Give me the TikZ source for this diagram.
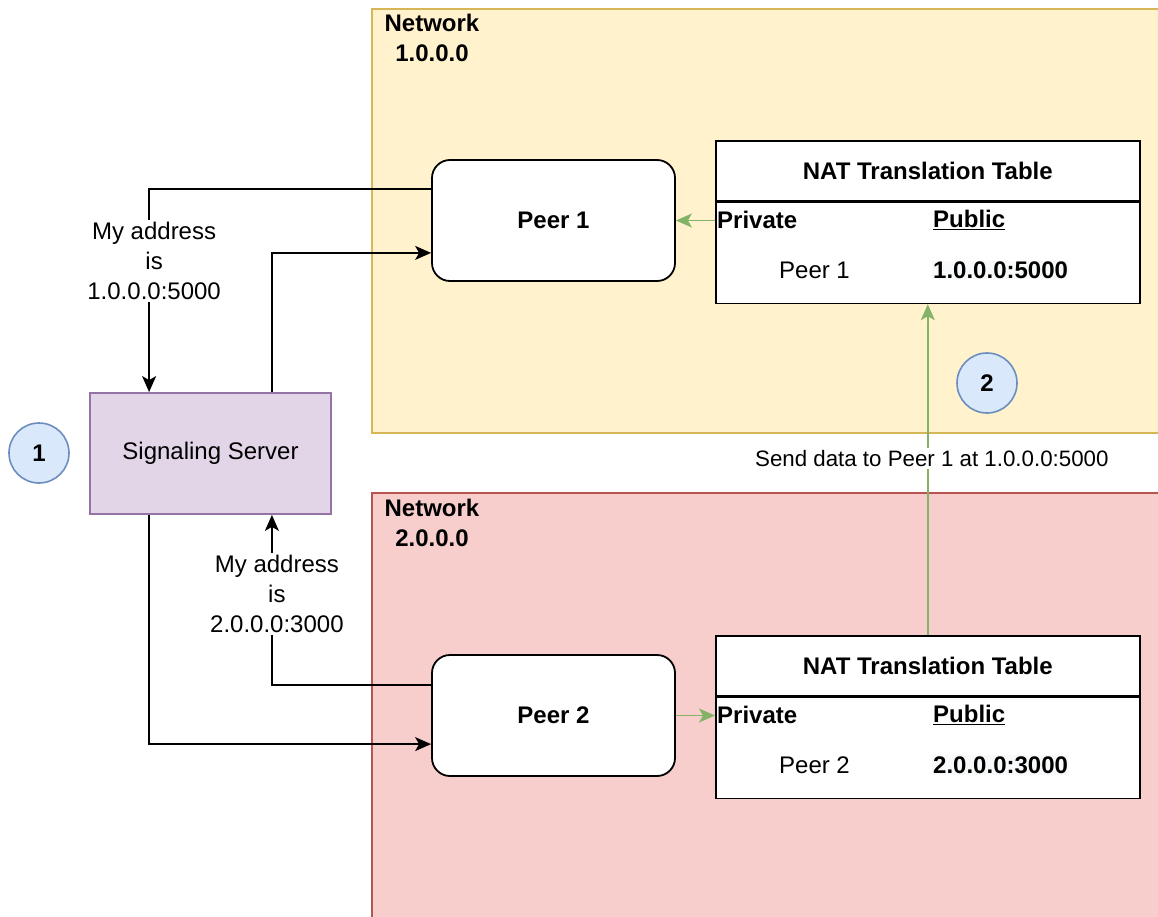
\documentclass[tikz,border=0pt]{standalone}
\usepackage{fontspec}
\setmainfont{Liberation Sans}
\usetikzlibrary{arrows.meta}

\definecolor{netyfill}{HTML}{FFF2CC}
\definecolor{netydraw}{HTML}{D6B656}
\definecolor{netrfill}{HTML}{F8CECC}
\definecolor{netrdraw}{HTML}{B85450}
\definecolor{srvfill}{HTML}{E1D5E7}
\definecolor{srvdraw}{HTML}{9673A6}
\definecolor{badgefill}{HTML}{DAE8FC}
\definecolor{badgedraw}{HTML}{6C8EBF}
\definecolor{flowgreen}{HTML}{82B366}
\definecolor{cellbg}{HTML}{F8F9FA}

\begin{document}
\begin{tikzpicture}[x=1pt,y=-1pt,
  font=\fontsize{24}{30}\selectfont,
  netbox/.style={line width=1.6pt},
  peerbox/.style={draw=black, fill=white, line width=1.8pt, rounded corners=18pt,
    minimum width=243pt, minimum height=121pt, inner sep=0pt, font=\fontsize{24}{30}\selectfont\bfseries},
  serverbox/.style={draw=srvdraw, fill=srvfill, line width=1.8pt,
    minimum width=241pt, minimum height=121pt, inner sep=0pt},
  badge/.style={circle, draw=badgedraw, fill=badgefill, line width=1.6pt,
    minimum size=60pt, inner sep=0pt, font=\fontsize{24}{30}\selectfont\bfseries},
  tablehead/.style={draw=black, fill=white, line width=1.6pt, anchor=north west,
    minimum width=424pt, minimum height=60pt, inner sep=0pt, font=\fontsize{24}{30}\selectfont\bfseries},
  tablebody/.style={draw=black, fill=white, line width=1.6pt, anchor=north west,
    minimum width=424pt, minimum height=101pt, inner sep=0pt},
  cell/.style={inner sep=1pt},
  conn/.style={draw=black, line width=1.5pt, -{Stealth[length=16pt,width=14pt,inset=4pt]}},
  dataflow/.style={draw=flowgreen, line width=1.6pt, -{Stealth[length=16pt,width=14pt,inset=4pt]}},
  addrlabel/.style={fill=white, align=center, inner sep=2pt},
]
\useasboundingbox (0,0) rectangle (1158,917);
\clip (0,0) rectangle (1158,917);

% network areas
\path[netbox, draw=netydraw, fill=netyfill] (372,9) rectangle (1180,433);
\path[netbox, draw=netrdraw, fill=netrfill] (372,493) rectangle (1180,940);
\node[align=center, font=\fontsize{24}{30}\selectfont\bfseries] (net1) at (432,38) {Network\\1.0.0.0};
\node[align=center, font=\fontsize{24}{30}\selectfont\bfseries] (net2) at (432,523) {Network\\2.0.0.0};

% hosts
\node[peerbox] (peer1) at (553.5,220.5) {Peer 1};
\node[peerbox] (peer2) at (553.5,715.5) {Peer 2};
\node[serverbox] (sig) at (210.5,453.5) {Signaling Server};

% step badges
\node[badge] (b1) at (39,453) {1};
\node[badge] (b2) at (987,383) {2};

% NAT table of network 1.0.0.0
\node[tablehead] (nat1h) at (715,140) {NAT Translation Table};
\node[tablebody] (nat1b) at (nat1h.south west) {};
\node[cell, anchor=west, font=\fontsize{24}{30}\selectfont\bfseries] (nat1pr) at (716,220) {Private};
\node[cell, anchor=west, font=\fontsize{24}{30}\selectfont\bfseries] (nat1pu) at (932,220) {\underline{Public}};
\node[cell] (nat1a) at (814.5,270) {Peer 1};
\node[cell, anchor=west, fill=cellbg, font=\fontsize{24}{30}\selectfont\bfseries] (nat1b2) at (932,270) {1.0.0.0:5000};

% NAT table of network 2.0.0.0
\node[tablehead] (nat2h) at (715,635) {NAT Translation Table};
\node[tablebody] (nat2b) at (nat2h.south west) {};
\node[cell, anchor=west, font=\fontsize{24}{30}\selectfont\bfseries] (nat2pr) at (716,715) {Private};
\node[cell, anchor=west, font=\fontsize{24}{30}\selectfont\bfseries] (nat2pu) at (932,715) {\underline{Public}};
\node[cell] (nat2a) at (814.5,765) {Peer 2};
\node[cell, anchor=west, fill=cellbg, font=\fontsize{24}{30}\selectfont\bfseries] (nat2b2) at (932,765) {2.0.0.0:3000};

% signaling exchange
\draw[conn] ([yshift=-30pt]peer1.north west) -| ([xshift=60pt]sig.north west)
  node[addrlabel, pos=0.677, xshift=5pt] (lab1) {My address\\is\\1.0.0.0:5000};
\draw[conn] ([xshift=-60pt]sig.north east) |- ([yshift=29pt]peer1.south west);
\draw[conn] ([yshift=-31pt]peer2.north west) -| ([xshift=-60pt]sig.south east)
  node[addrlabel, pos=0.767, xshift=5pt] (lab2) {My address\\is\\2.0.0.0:3000};
\draw[conn] ([xshift=60pt]sig.south west) |- ([yshift=-90pt]peer2.north west);

% data path through the NAT tables
\draw[dataflow] (nat1b.west |- peer1.east) -- (peer1.east);
\draw[dataflow] (peer2.east) -- (nat2b.west |- peer2.east);
\draw[dataflow] (nat2h.north) -- (nat1b.south)
  node[addrlabel, pos=0.533, xshift=4pt, font=\fontsize{22.3}{27}\selectfont] (lab3) {Send data to Peer 1 at 1.0.0.0:5000};
\end{tikzpicture}
\end{document}
